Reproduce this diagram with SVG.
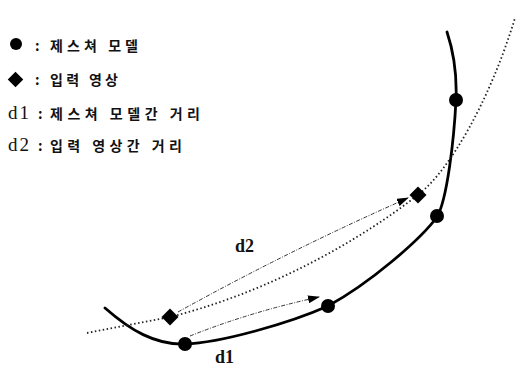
<svg xmlns="http://www.w3.org/2000/svg" width="516" height="369" viewBox="0 0 516 369">
<style>
.ko{font-family:"Noto Sans CJK KR","Noto Sans",sans-serif;font-size:14px;font-weight:bold;fill:#111}
.ser{font-family:"Liberation Serif","Times New Roman",serif;font-size:19px;fill:#111;letter-spacing:2px}
.lbl{font-family:"Liberation Serif","Times New Roman",serif;font-size:18px;font-weight:bold;fill:#111}
.solid{fill:none;stroke:#000;stroke-width:2.8;stroke-linecap:round}
.dot{fill:none;stroke:#222;stroke-width:1.8;stroke-dasharray:1.5 2.5}
.arr{fill:none;stroke:#333;stroke-width:1;stroke-dasharray:4 1.5 1 1.5;marker-end:url(#ah)}
.pt{fill:#000}
</style>
<defs>
<marker id="ah" markerWidth="12" markerHeight="8" refX="11" refY="4" orient="auto" markerUnits="userSpaceOnUse">
<path d="M0,0 L12,4 L0,8 Z" fill="#000"/>
</marker>
</defs>
<g id="legend">
<g id="legend-model"><circle class="pt" cx="16" cy="44" r="6"/><text class="ko" x="35" y="51">:</text><text class="ko" x="50" y="51" textLength="88" lengthAdjust="spacing">제스쳐 모델</text></g>
<g id="legend-input"><rect class="pt" x="10" y="74" width="11" height="11" transform="rotate(45 15.5 79.5)"/><text class="ko" x="35" y="85">:</text><text class="ko" x="50" y="85" textLength="68" lengthAdjust="spacing">입력 영상</text></g>
<g id="legend-d1"><text class="ser" x="8" y="119">d1</text><text class="ko" x="38" y="119">:</text><text class="ko" x="50" y="119" textLength="150" lengthAdjust="spacing">제스쳐 모델간 거리</text></g>
<g id="legend-d2"><text class="ser" x="8" y="151">d2</text><text class="ko" x="38" y="151">:</text><text class="ko" x="50" y="151" textLength="132" lengthAdjust="spacing">입력 영상간 거리</text></g>
</g>
<g id="connectors">
<path id="model-curve" class="solid" d="M105,308 C130,330 155,345 185,344 C220,343 290,323 328,306 C370,283 420,240 437,217 C447,200 454,140 456,100 C457,75 453,50 447,32"/>
<path id="input-curve" class="dot" d="M87,333 L170,317 C250,297 340,255 418,195 C450,170 490,100 515,18"/>
<path id="d2-arrow" class="arr" d="M178,312 Q290,250 408,198"/>
<path id="d1-arrow" class="arr" d="M190,336 Q250,312 319,297"/>
</g>
<g id="input-1"><rect class="pt" x="164" y="311" width="12" height="12" transform="rotate(45 170 317)"/></g>
<g id="input-2"><rect class="pt" x="412" y="189" width="12" height="12" transform="rotate(45 418 195)"/></g>
<g id="model-1"><circle class="pt" cx="185" cy="344" r="7"/></g>
<g id="model-2"><circle class="pt" cx="328" cy="306" r="7"/></g>
<g id="model-3"><circle class="pt" cx="437" cy="216" r="7"/></g>
<g id="model-4"><circle class="pt" cx="456" cy="100" r="7"/></g>
<g id="label-d2"><text class="lbl" x="235" y="252">d2</text></g>
<g id="label-d1"><text class="lbl" x="215" y="363" font-size="17">d1</text></g>
</svg>
